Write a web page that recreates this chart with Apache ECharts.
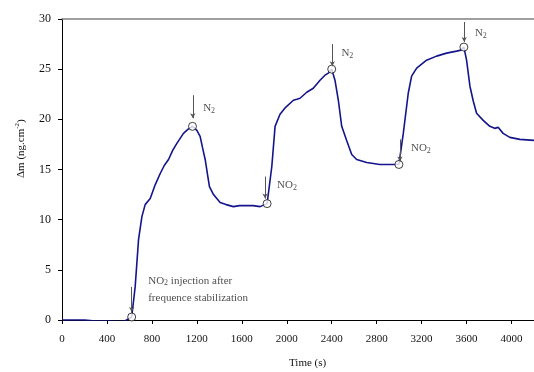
<!DOCTYPE html>
<html>
<head>
<meta charset="utf-8">
<script src="https://cdn.jsdelivr.net/npm/echarts@6/dist/echarts.min.js"></script>
<style>
  html, body { margin: 0; padding: 0; background: #fff; }
  #chart { width: 534px; height: 372px; }
</style>
</head>
<body>
<div id="chart"></div>
<script>
// mass change vs time
const timeS = [0, 100, 200, 250, 300, 400, 500, 560, 590, 620, 651, 681, 711, 740, 785, 830, 874, 910, 948, 985,
  1022, 1081, 1120, 1161, 1200, 1229, 1250, 1274, 1295, 1312, 1348, 1407, 1460, 1525, 1580, 1644, 1700, 1763, 1825,
  1867, 1896, 1940, 1990, 2059, 2090, 2118, 2178, 2236, 2296, 2340, 2370, 2400, 2429, 2459, 2489, 2533, 2578, 2622,
  2711, 2829, 2948, 2998, 3037, 3081, 3111, 3156, 3200, 3244, 3333, 3422, 3511, 3550, 3576, 3600, 3630, 3660, 3689,
  3748, 3807, 3850, 3881, 3925, 3985, 4074, 4200];
const deltaM = [0, 0, 0, -0.05, -0.1, -0.1, -0.15, -0.1, 0.1, 0.3, 3.3, 8.0, 10.3, 11.5, 12.1, 13.5, 14.6, 15.4, 16.0, 16.9,
  17.6, 18.6, 19.0, 19.3, 18.9, 18.3, 17.2, 16.0, 14.5, 13.3, 12.5, 11.7, 11.5, 11.3, 11.4, 11.4, 11.4, 11.3, 11.6,
  15.3, 19.3, 20.5, 21.2, 21.9, 22.0, 22.1, 22.7, 23.1, 23.9, 24.4, 24.6, 25.0, 23.9, 21.9, 19.3, 17.9, 16.5, 16.0,
  15.7, 15.5, 15.5, 15.5, 18.6, 22.6, 24.3, 25.1, 25.5, 25.9, 26.3, 26.6, 26.8, 26.9, 27.2, 25.9, 23.3, 21.8, 20.6,
  19.9, 19.3, 19.1, 19.2, 18.6, 18.2, 18.0, 17.9];

// switching points (open circles)
const switchX = [620, 1161, 1825, 2400, 2998, 3576];
const switchY = [0.3, 19.3, 11.6, 25.0, 15.5, 27.2];

// arrows: x, top y, bottom y
const arrowX = [620, 1164, 1807, 2405, 3007, 3579];
const arrowTop = [3.3, 22.4, 14.3, 27.5, 18.0, 29.7];
const arrowBottom = [0.8, 20.1, 12.1, 25.3, 15.8, 27.7];

// annotation texts anchored at their left edge
const noteX = [767, 767, 1256, 1914, 2486, 3105, 3674];
const noteY = [3.9, 2.2, 21.1, 13.4, 26.6, 17.1, 28.6];
const noteText = ['NO{sub|2} injection after', 'frequence stabilization', 'N{sub|2}', 'NO{sub|2}', 'N{sub|2}', 'NO{sub|2}', 'N{sub|2}'];

const xTicks = [0, 400, 800, 1200, 1600, 2000, 2400, 2800, 3200, 3600, 4000];

const font = 'Liberation Serif';
const chart = echarts.init(document.getElementById('chart'));

const arrows = arrowX.map((x, i) => [{ coord: [x, arrowTop[i]] }, { coord: [x, arrowBottom[i]] }]);

chart.setOption({
  animation: false,
  grid: { left: 62, right: 0, top: 19, bottom: 52 },
  xAxis: [
    {
      type: 'value',
      min: 0,
      max: 4200,
      interval: 400,
      axisLine: { lineStyle: { color: '#000', width: 1 } },
      axisTick: { customValues: xTicks, length: 4, inside: false, lineStyle: { color: '#000' } },
      axisLabel: {
        customValues: xTicks,
        formatter: (v) => String(v),
        color: '#111',
        fontFamily: font,
        fontSize: 11,
        margin: 14,
      },
      splitLine: { show: false },
    },
    {
      type: 'value',
      position: 'top',
      min: 0,
      max: 4200,
      axisLine: { show: true, lineStyle: { color: '#808080', width: 1.5 } },
      axisTick: { show: false },
      axisLabel: { show: false },
      splitLine: { show: false },
    },
  ],
  yAxis: {
    type: 'value',
    min: 0,
    max: 30,
    interval: 5,
    axisLine: { show: true, lineStyle: { color: '#000', width: 1 } },
    axisTick: { show: true, length: 4, lineStyle: { color: '#000' } },
    axisLabel: { color: '#111', fontFamily: font, fontSize: 12, margin: 11 },
    splitLine: { show: false },
  },
  graphic: [
    {
      type: 'text',
      left: 289,
      top: 358,
      style: { text: 'Time (s)', fontFamily: font, fontSize: 11, fill: '#111' },
    },
    {
      type: 'text',
      x: 14,
      y: 178,
      rotation: Math.PI / 2,
      style: {
        text: 'Δm (ng.cm{sup|-2})',
        fontFamily: font,
        fontSize: 11,
        fill: '#111',
        rich: { sup: { fontFamily: font, fontSize: 7, padding: [0, 0, 7, 0], fill: '#111' } },
      },
    },
  ],
  series: [
    {
      type: 'line',
      data: timeS.map((t, i) => [t, deltaM[i]]),
      symbol: 'none',
      lineStyle: { color: '#14148c', width: 1.6 },
      markLine: {
        silent: true,
        symbol: ['none', 'arrow'],
        symbolSize: [4, 5],
        label: { show: false },
        lineStyle: { color: '#555', width: 1, type: 'solid' },
        data: arrows,
      },
      z: 2,
    },
    {
      type: 'scatter',
      data: switchX.map((x, i) => [x, switchY[i]]),
      symbol: 'circle',
      symbolSize: 8,
      itemStyle: { color: '#fff', borderColor: '#111', borderWidth: 1 },
      z: 3,
    },
    {
      type: 'scatter',
      data: noteX.map((x, i) => ({ value: [x, noteY[i]], text: noteText[i] })),
      symbolSize: 0,
      silent: true,
      label: {
        show: true,
        position: 'right',
        distance: 0,
        formatter: (p) => p.data.text,
        fontFamily: font,
        fontSize: 11,
        color: '#222',
        rich: { sub: { fontFamily: font, fontSize: 8, padding: [5, 0, 0, 0], color: '#222' } },
      },
      z: 4,
    },
  ],
});
</script>
</body>
</html>
